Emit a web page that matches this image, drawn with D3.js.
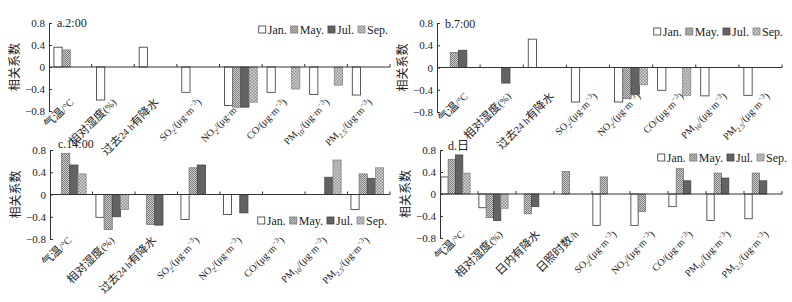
<!DOCTYPE html>
<html>
<head>
<meta charset="utf-8">
<script src="https://cdn.jsdelivr.net/npm/d3@7"></script>
<style>
  body { margin: 0; background: #fff; }
  svg { display: block; font-family: "Liberation Serif", "Times New Roman", "Noto Sans CJK SC", serif; }
</style>
</head>
<body>
<svg id="chart" width="792" height="302"></svg>
<script>
// Month series and category labels ({_x} = subscript, {^x} = superscript)
const months = ["Jan.", "May.", "Jul.", "Sep."];
const catsHour = ["气温/°C", "相对湿度(%)", "过去24 h有降水", "SO{_2}/(μg·m{^−3})",
  "NO{_2}/(μg·m{^−3})", "CO/(μg·m{^−3})", "PM{_10}/(μg·m{^−3})", "PM{_2.5}/(μg·m{^−3})"];
const catsDay = ["气温/°C", "相对湿度(%)", "日内有降水", "日照时数/h", "SO{_2}/(μg·m{^−3})",
  "NO{_2}/(μg·m{^−3})", "CO/(μg·m{^−3})", "PM{_10}/(μg·m{^−3})", "PM{_2.5}/(μg·m{^−3})"];
const yTicks = [0.8, 0.4, 0, -0.4, -0.8];

// a. 2:00  (null = no bar)
const h2Jan = [0.36, -0.60, 0.36, -0.46, -0.70, -0.46, -0.50, -0.51];
const h2May = [0.31, null, null, null, -0.73, null, null, null];
const h2Jul = [null, null, null, null, -0.73, null, null, null];
const h2Sep = [null, null, null, null, -0.64, -0.40, -0.33, null];

// b. 7:00
const h7Jan = [null, null, 0.51, -0.62, -0.62, -0.41, -0.51, -0.50];
const h7May = [0.27, null, null, null, -0.56, null, null, null];
const h7Jul = [0.31, -0.28, null, null, -0.48, null, null, null];
const h7Sep = [null, null, null, null, -0.31, -0.50, null, null];

// c. 14:00
const h14Jan = [null, -0.41, null, -0.45, -0.36, null, null, -0.27];
const h14May = [0.74, -0.63, -0.54, 0.48, null, null, null, 0.37];
const h14Jul = [0.53, -0.40, -0.55, 0.53, -0.33, null, 0.31, 0.29];
const h14Sep = [0.37, -0.27, null, null, null, null, 0.62, 0.48];

// d. 日
const dayJan = [0.31, -0.25, null, null, -0.57, -0.57, -0.23, -0.48, -0.45];
const dayMay = [0.63, -0.43, -0.36, 0.41, 0.31, -0.32, 0.46, 0.38, 0.38];
const dayJul = [0.71, -0.48, -0.23, null, null, null, 0.24, 0.29, 0.24];
const daySep = [0.38, -0.26, null, null, null, null, null, null, null];

// Panel layout (labelOff = where the rotated labels end, relative to band centre / axis bottom)
const panels = [
  { title: "a.2:00", cats: catsHour, series: [h2Jan, h2May, h2Jul, h2Sep],
    x: 49, y: 23, w: 341, h: 88, align: 0.5, titleY: 4, labelOff: [4, -8],
    legend: { right: 388, y: 30 } },
  { title: "b.7:00", cats: catsHour, series: [h7Jan, h7May, h7Jul, h7Sep],
    x: 437, y: 23, w: 345, h: 89, align: 0.5, titleY: 5, labelOff: [10, -15],
    legend: { right: 783, y: 32 } },
  { title: "c.14:00", cats: catsHour, series: [h14Jan, h14May, h14Jul, h14Sep],
    x: 50, y: 150, w: 340, h: 89, align: 0.35, titleY: -2, labelOff: [1, 2],
    legend: { right: 387, y: 221 } },
  { title: "d.日", cats: catsDay, series: [dayJan, dayMay, dayJul, daySep],
    x: 440, y: 150, w: 342, h: 88, align: 0.1, titleY: 0, labelOff: [6, -3],
    legend: { right: 787, y: 158 } },
];

const svg = d3.select("#chart");
svg.append("rect").attr("width", 792).attr("height", 302).attr("fill", "#fff");

// Fill patterns for the hatched months
const defs = svg.append("defs");
function checker(id, dark, light, size) {
  const p = defs.append("pattern").attr("id", id).attr("patternUnits", "userSpaceOnUse")
    .attr("width", size * 2).attr("height", size * 2);
  p.append("rect").attr("width", size * 2).attr("height", size * 2).attr("fill", light);
  p.append("rect").attr("width", size).attr("height", size).attr("fill", dark);
  p.append("rect").attr("x", size).attr("y", size).attr("width", size).attr("height", size).attr("fill", dark);
}
checker("patMay", "#7a7a7a", "#cfcfcf", 1);
checker("patSep", "#8c8c8c", "#dadada", 1.5);

const fills = ["#fff", "url(#patMay)", "#636363", "url(#patSep)"];
const strokes = ["#333", "#777", "#444", "#888"];

// Latin at 10px, CJK runs a bit larger, sub/superscripts smaller
function richText(sel, str) {
  const parts = str.split(/(\{[_^][^}]*\})/).filter(s => s);
  let shift = 0;
  parts.forEach(p => {
    const m = p.match(/^\{([_^])(.*)\}$/);
    if (m) {
      const s = m[1] === "_" ? 3 : -4;
      sel.append("tspan").attr("font-size", 7).attr("dy", s - shift).text(m[2]);
      shift = s;
      return;
    }
    p.split(/([\u4e00-\u9fff]+)/).filter(s => s).forEach(run => {
      const cjk = /[\u4e00-\u9fff]/.test(run);
      sel.append("tspan").attr("dy", -shift).attr("font-size", cjk ? 11.5 : 10).text(run);
      shift = 0;
    });
  });
}

panels.forEach(pn => {
  const g = svg.append("g").attr("transform", `translate(${pn.x},${pn.y})`);

  const x = d3.scaleBand(pn.cats.map((d, i) => i), [0, pn.w]);
  const xs = d3.scaleBand(months.map((d, i) => i), [0, x.bandwidth()])
    .paddingOuter(0.6).align(pn.align);
  const y = d3.scaleLinear([-0.8, 0.8], [pn.h, 0]);

  // Category labels, rotated (drawn first so bars sit on top)
  g.append("g").selectAll("text")
    .data(pn.cats)
    .join("text")
    .attr("transform", (d, i) =>
      `translate(${x(i) + x.bandwidth() / 2 + pn.labelOff[0]},${pn.h + pn.labelOff[1]}) rotate(-45)`)
    .attr("text-anchor", "end")
    .attr("dy", "0.35em")
    .attr("font-size", 10)
    .attr("fill", "#222")
    .each(function (d) { richText(d3.select(this), d); });

  // Bars
  pn.series.forEach((vals, m) => {
    g.append("g").selectAll("rect")
      .data(vals.map((v, i) => ({ v, i })).filter(d => d.v !== null))
      .join("rect")
      .attr("x", d => x(d.i) + xs(m))
      .attr("width", xs.bandwidth())
      .attr("y", d => Math.min(y(d.v), y(0)))
      .attr("height", d => Math.abs(y(d.v) - y(0)))
      .attr("fill", fills[m])
      .attr("stroke", strokes[m])
      .attr("stroke-width", 0.8);
  });

  // Y axis, ticks pointing inward
  const ay = g.append("g")
    .call(d3.axisLeft(y).tickValues(yTicks).tickSizeInner(-3).tickSizeOuter(0).tickPadding(4)
      .tickFormat(d => d === 0 ? "0" : d3.format(".1f")(d)));
  ay.select(".domain").attr("stroke", "#333");
  ay.selectAll(".tick line").attr("stroke", "#333");
  ay.selectAll("text").attr("font-size", 11).attr("fill", "#222")
    .attr("font-family", "Liberation Serif, serif");

  // Zero line with upward ticks at category boundaries
  g.append("line").attr("x1", 0).attr("x2", pn.w).attr("y1", y(0)).attr("y2", y(0))
    .attr("stroke", "#333").attr("stroke-width", 1);
  g.append("g").selectAll("line")
    .data(d3.range(1, pn.cats.length + 1))
    .join("line")
    .attr("x1", i => i * x.step()).attr("x2", i => i * x.step())
    .attr("y1", y(0)).attr("y2", y(0) - 3)
    .attr("stroke", "#333");

  // Title and axis name
  g.append("text").attr("x", 8).attr("y", pn.titleY).attr("font-size", 12).attr("fill", "#222").text(pn.title);
  g.append("text")
    .attr("transform", `translate(-34,${pn.h / 2}) rotate(-90)`)
    .attr("text-anchor", "middle").attr("dy", "0.35em")
    .attr("font-size", 12).attr("fill", "#222")
    .attr("font-family", "Noto Sans CJK SC, sans-serif")
    .text("相关系数");

  // Legend, right-aligned
  const lg = svg.append("g");
  const items = months.map((mName, m) => {
    const it = lg.append("g");
    it.append("rect").attr("width", 7).attr("height", 7).attr("y", -4)
      .attr("fill", fills[m]).attr("stroke", strokes[m]).attr("stroke-width", 0.8);
    const t = it.append("text").attr("x", 9).attr("dy", "0.35em")
      .attr("font-size", 12).attr("fill", "#222").text(mName);
    return { it, w: 9 + t.node().getComputedTextLength() };
  });
  const gap = 4;
  const total = d3.sum(items, d => d.w) + gap * (items.length - 1);
  let cx = pn.legend.right - total;
  items.forEach(d => {
    d.it.attr("transform", `translate(${cx},${pn.legend.y})`);
    cx += d.w + gap;
  });
});
</script>
</body>
</html>
